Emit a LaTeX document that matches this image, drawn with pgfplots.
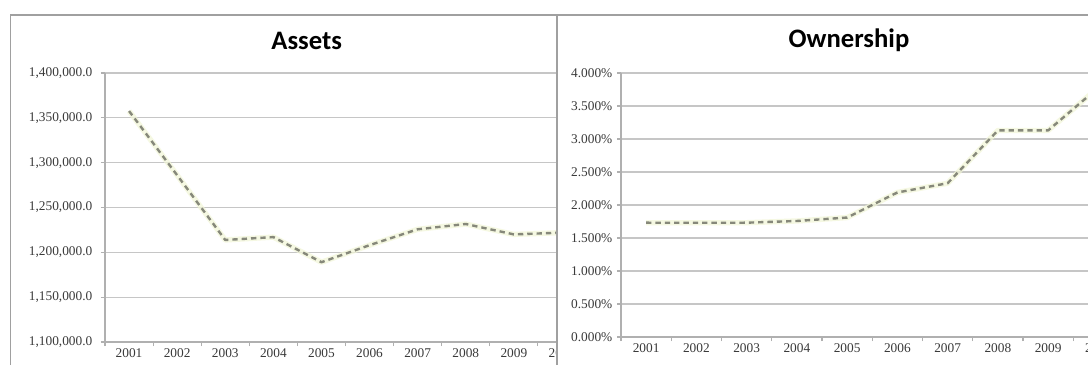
\documentclass[border=0pt]{standalone}
\usepackage{pgfplots}
\pgfplotsset{compat=1.18}
\usepackage{fontspec}
\setmainfont{Liberation Serif}
\newfontfamily\titlefont{Carlito}

\definecolor{frame}{HTML}{A0A0A0}
\definecolor{gridc}{HTML}{C6C6C6}
\definecolor{axisc}{HTML}{B0B0B0}
\definecolor{series}{HTML}{86887A}
\definecolor{glow}{HTML}{F2F6D6}
\definecolor{ticktext}{HTML}{3A3A3A}

\pgfplotstableread{
x  assets
1  1357600
2  1286000
3  1213800
4  1217000
5  1189000
6  1208000
7  1225700
8  1231600
9  1220000
10 1222000
}\assetsdata

\pgfplotstableread{
x  own
1  1.732
2  1.731
3  1.732
4  1.758
5  1.810
6  2.190
7  2.330
8  3.130
9  3.130
10 3.780
}\owndata

\pgfplotsset{
  panel/.style={
    scale only axis,
    anchor=south west,
    axis x line*=bottom,
    axis y line*=left,
    axis line style={draw=axisc, line width=0.8pt},
    tick align=outside,
    major tick length=3pt,
    tick style={draw=axisc, line width=0.8pt},
    ymajorgrids,
    grid style={draw=gridc, line width=0.8pt},
    scaled y ticks=false,
    xmin=0.5, xmax=10.5,
    xtick={0.5,1.5,...,10.5},
    xticklabels={},
    extra x ticks={1,2,...,10},
    extra x tick labels={2001,2002,2003,2004,2005,2006,2007,2008,2009,2010},
    extra x tick style={major tick length=0pt, grid=none},
    ticklabel style={font=\fontsize{10}{11}\selectfont, text=ticktext},
    xticklabel style={yshift=-1.5pt},
    clip=false,
  },
  glowline/.style={draw=glow, line width=4pt, line join=round, opacity=0.7},
  dashline/.style={draw=series, line width=1.8pt, dash pattern=on 4pt off 3pt, line join=round},
}

\begin{document}
\begin{tikzpicture}
\useasboundingbox (0,0) rectangle (816pt,-273.75pt);
\fill[white] (0,0) rectangle (816pt,-273.75pt);
\begin{scope}
\clip (0,0) rectangle (816pt,-273.75pt);

% left chart: total assets
\begin{scope}
\clip (0,0) rectangle (417.75pt,-273.75pt);
\draw[frame, line width=1.2pt] (8pt,-273.75pt) -- (8pt,-11.25pt) -- (417.75pt,-11.25pt);
\node[font=\titlefont\bfseries\fontsize{20}{24}\selectfont] at (230pt,-31pt) {Assets};
\begin{axis}[panel,
    at={(78.75pt,-256.5pt)},
    width=360.75pt, height=201.75pt,
    ymin=1100000, ymax=1400000,
    ytick={1100000,1150000,1200000,1250000,1300000,1350000,1400000},
    yticklabels={{1,100,000.0},{1,150,000.0},{1,200,000.0},{1,250,000.0},{1,300,000.0},{1,350,000.0},{1,400,000.0}},
    yticklabel style={xshift=-3pt},
  ]
  \addplot[glowline] table[x=x, y=assets] {\assetsdata};
  \addplot[dashline] table[x=x, y=assets] {\assetsdata};
\end{axis}
\end{scope}

% right chart: ownership share
\fill[white] (417.75pt,-11.25pt) rectangle (816pt,-273.75pt);
\draw[frame, line width=1.2pt] (417.75pt,-273.75pt) -- (417.75pt,-11.25pt) -- (816pt,-11.25pt);
\node[font=\titlefont\bfseries\fontsize{20}{24}\selectfont] at (636.75pt,-30.5pt) {Ownership};
\begin{axis}[panel,
    at={(465.75pt,-252.75pt)},
    width=376.875pt, height=198pt,
    ymin=0, ymax=4,
    ytick={0,0.5,1,1.5,2,2.5,3,3.5,4},
    yticklabels={0.000\%,0.500\%,1.000\%,1.500\%,2.000\%,2.500\%,3.000\%,3.500\%,4.000\%},
  ]
  \addplot[glowline] table[x=x, y=own] {\owndata};
  \addplot[dashline] table[x=x, y=own] {\owndata};
\end{axis}
\end{scope}
\end{tikzpicture}
\end{document}
